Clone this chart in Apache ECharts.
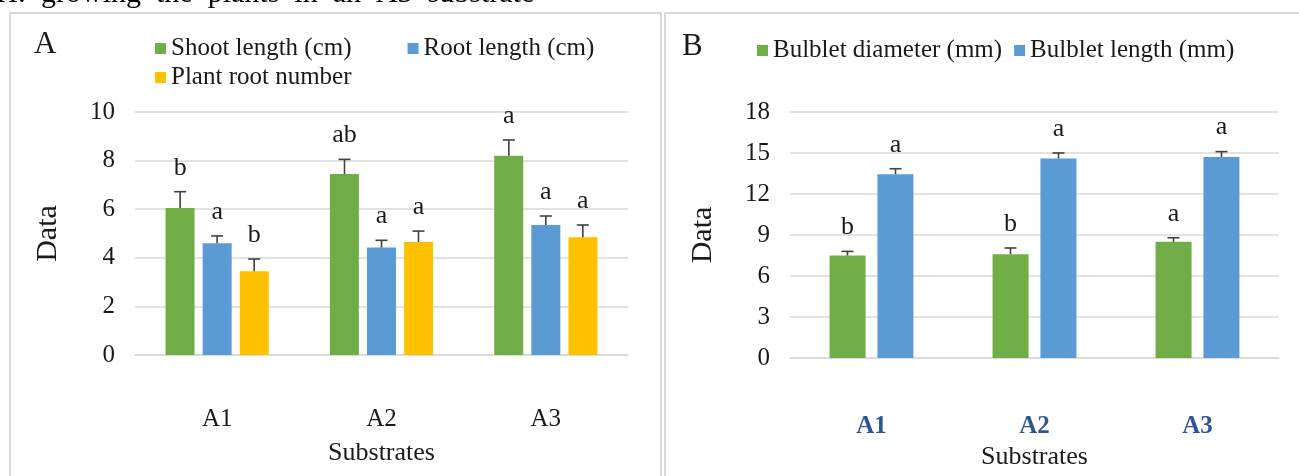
<!DOCTYPE html>
<html>
<head>
<meta charset="utf-8">
<script src="https://cdn.jsdelivr.net/npm/echarts@6/dist/echarts.min.js"></script>
<style>
  html, body { margin: 0; padding: 0; background: #fff; }
  #chart { width: 1299px; height: 476px; }
</style>
</head>
<body>
<div id="chart"></div>
<script>
// panel A
const substrates = ['A1', 'A2', 'A3'];
const shootLength = [6.05, 7.45, 8.2];
const shootErr = [6.72, 8.05, 8.85];
const shootLetters = ['b', 'ab', 'a'];
const rootLength = [4.6, 4.42, 5.35];
const rootErr = [4.9, 4.72, 5.72];
const rootLetters = ['a', 'a', 'a'];
const rootNumber = [3.45, 4.65, 4.85];
const rootNumberErr = [3.95, 5.1, 5.35];
const rootNumberLetters = ['b', 'a', 'a'];
const ticksA = [0, 10, 2];

// panel B
const bulbDiameter = [7.5, 7.6, 8.5];
const bulbDiameterErr = [7.8, 8.05, 8.8];
const bulbDiameterLetters = ['b', 'b', 'a'];
const bulbLength = [13.45, 14.6, 14.7];
const bulbLengthErr = [13.85, 15.0, 15.1];
const bulbLengthLetters = ['a', 'a', 'a'];
const ticksB = [0, 18, 3];

const GREEN = '#70AD47', BLUE = '#5B9BD5', YELLOW = '#FFC000';
const FONT = 'Liberation Serif';
const TXT = '#1a1a1a';

const chart = echarts.init(document.getElementById('chart'));

function bar(name, data, color, axis, width) {
    return {
        name: name,
        type: 'bar',
        xAxisIndex: axis,
        yAxisIndex: axis,
        data: data,
        barWidth: width,
        barGap: axis === 0 ? '28%' : '33%',
        itemStyle: { color: color },
        z: 2
    };
}

// upper error bar + significance letter, shifted to sit on its bar
function errBar(name, values, tops, letters, axis, offset) {
    return {
        name: name,
        type: 'custom',
        xAxisIndex: axis,
        yAxisIndex: axis,
        z: 5,
        data: values.map(function (v, i) { return [i, v, tops[i]]; }),
        renderItem: function (params, api) {
            const base = api.coord([api.value(0), api.value(1)]);
            const top = api.coord([api.value(0), api.value(2)]);
            const x = base[0] + offset;
            const st = { stroke: '#404040', lineWidth: 1.6 };
            return {
                type: 'group',
                children: [
                    { type: 'line', shape: { x1: x, y1: base[1], x2: x, y2: top[1] }, style: st },
                    { type: 'line', shape: { x1: x - 6, y1: top[1], x2: x + 6, y2: top[1] }, style: st },
                    {
                        type: 'text',
                        style: {
                            x: x, y: top[1] - 11,
                            text: letters[params.dataIndex],
                            fill: TXT,
                            font: '26px "' + FONT + '"',
                            textAlign: 'center',
                            textVerticalAlign: 'bottom'
                        }
                    }
                ]
            };
        }
    };
}

function yAxis(idx, t) {
    return {
        type: 'value',
        gridIndex: idx,
        min: t[0], max: t[1], interval: t[2],
        name: 'Data',
        nameLocation: 'middle',
        nameGap: 72,
        nameTextStyle: { fontFamily: FONT, fontSize: 30, color: TXT },
        axisLine: { show: false },
        axisTick: { show: false },
        axisLabel: { fontFamily: FONT, fontSize: 25, color: TXT, margin: 20 },
        splitLine: { lineStyle: { color: '#D9D9D9', width: 1.5 } }
    };
}

function xAxis(idx, labelStyle) {
    return Object.assign({
        type: 'category',
        gridIndex: idx,
        data: substrates,
        name: 'Substrates',
        nameLocation: 'middle',
        nameGap: 85,
        nameTextStyle: { fontFamily: FONT, fontSize: 26, color: TXT },
        axisLine: { lineStyle: { color: '#D9D9D9', width: 1.5 } },
        axisTick: { show: false }
    }, { axisLabel: labelStyle });
}

const legendText = { fontFamily: FONT, fontSize: 25, color: TXT };

chart.setOption({
    animation: false,
    graphic: [
        { type: 'rect', shape: { x: 10, y: 13, width: 651, height: 480 },
          style: { fill: 'none', stroke: '#D9D9D9', lineWidth: 2 } },
        { type: 'rect', shape: { x: 665, y: 13, width: 650, height: 480 },
          style: { fill: 'none', stroke: '#D9D9D9', lineWidth: 2 } },
        // caption line of the page above, cut off by the crop
        { type: 'text', x: -4, y: -21,
          style: { text: 'H:  growing  the  plants  in  an  A3  substrate', font: '30px "' + FONT + '"', fill: '#000' } },
        { type: 'text', left: 34, top: 29, style: { text: 'A', font: '31px "' + FONT + '"', fill: TXT } },
        { type: 'text', left: 682, top: 31, style: { text: 'B', font: '31px "' + FONT + '"', fill: TXT } }
    ],
    legend: [
        { data: ['Shoot length (cm)', 'Root length (cm)'], left: 150, top: 31, icon: 'rect',
          itemWidth: 11, itemHeight: 11, itemGap: 56, textStyle: legendText },
        { data: ['Plant root number'], left: 150, top: 60, icon: 'rect',
          itemWidth: 11, itemHeight: 11, textStyle: legendText },
        { data: ['Bulblet diameter (mm)', 'Bulblet length (mm)'], left: 752, top: 33, icon: 'rect',
          itemWidth: 11, itemHeight: 11, itemGap: 12, textStyle: legendText }
    ],
    grid: [
        { left: 135, top: 112, width: 493, height: 243 },
        { left: 790, top: 112, width: 489, height: 246 }
    ],
    xAxis: [
        xAxis(0, { fontFamily: FONT, fontSize: 25, color: TXT, margin: 52 }),
        xAxis(1, { fontFamily: FONT, fontSize: 25, color: '#2F5597', fontWeight: 'bold', margin: 56 })
    ],
    yAxis: [yAxis(0, ticksA), yAxis(1, ticksB)],
    series: [
        bar('Shoot length (cm)', shootLength, GREEN, 0, 29),
        bar('Root length (cm)', rootLength, BLUE, 0, 29),
        bar('Plant root number', rootNumber, YELLOW, 0, 29),
        errBar('e1', shootLength, shootErr, shootLetters, 0, -37),
        errBar('e2', rootLength, rootErr, rootLetters, 0, 0),
        errBar('e3', rootNumber, rootNumberErr, rootNumberLetters, 0, 37),
        bar('Bulblet diameter (mm)', bulbDiameter, GREEN, 1, 36),
        bar('Bulblet length (mm)', bulbLength, BLUE, 1, 36),
        errBar('e4', bulbDiameter, bulbDiameterErr, bulbDiameterLetters, 1, -24),
        errBar('e5', bulbLength, bulbLengthErr, bulbLengthLetters, 1, 24)
    ]
});
</script>
</body>
</html>
